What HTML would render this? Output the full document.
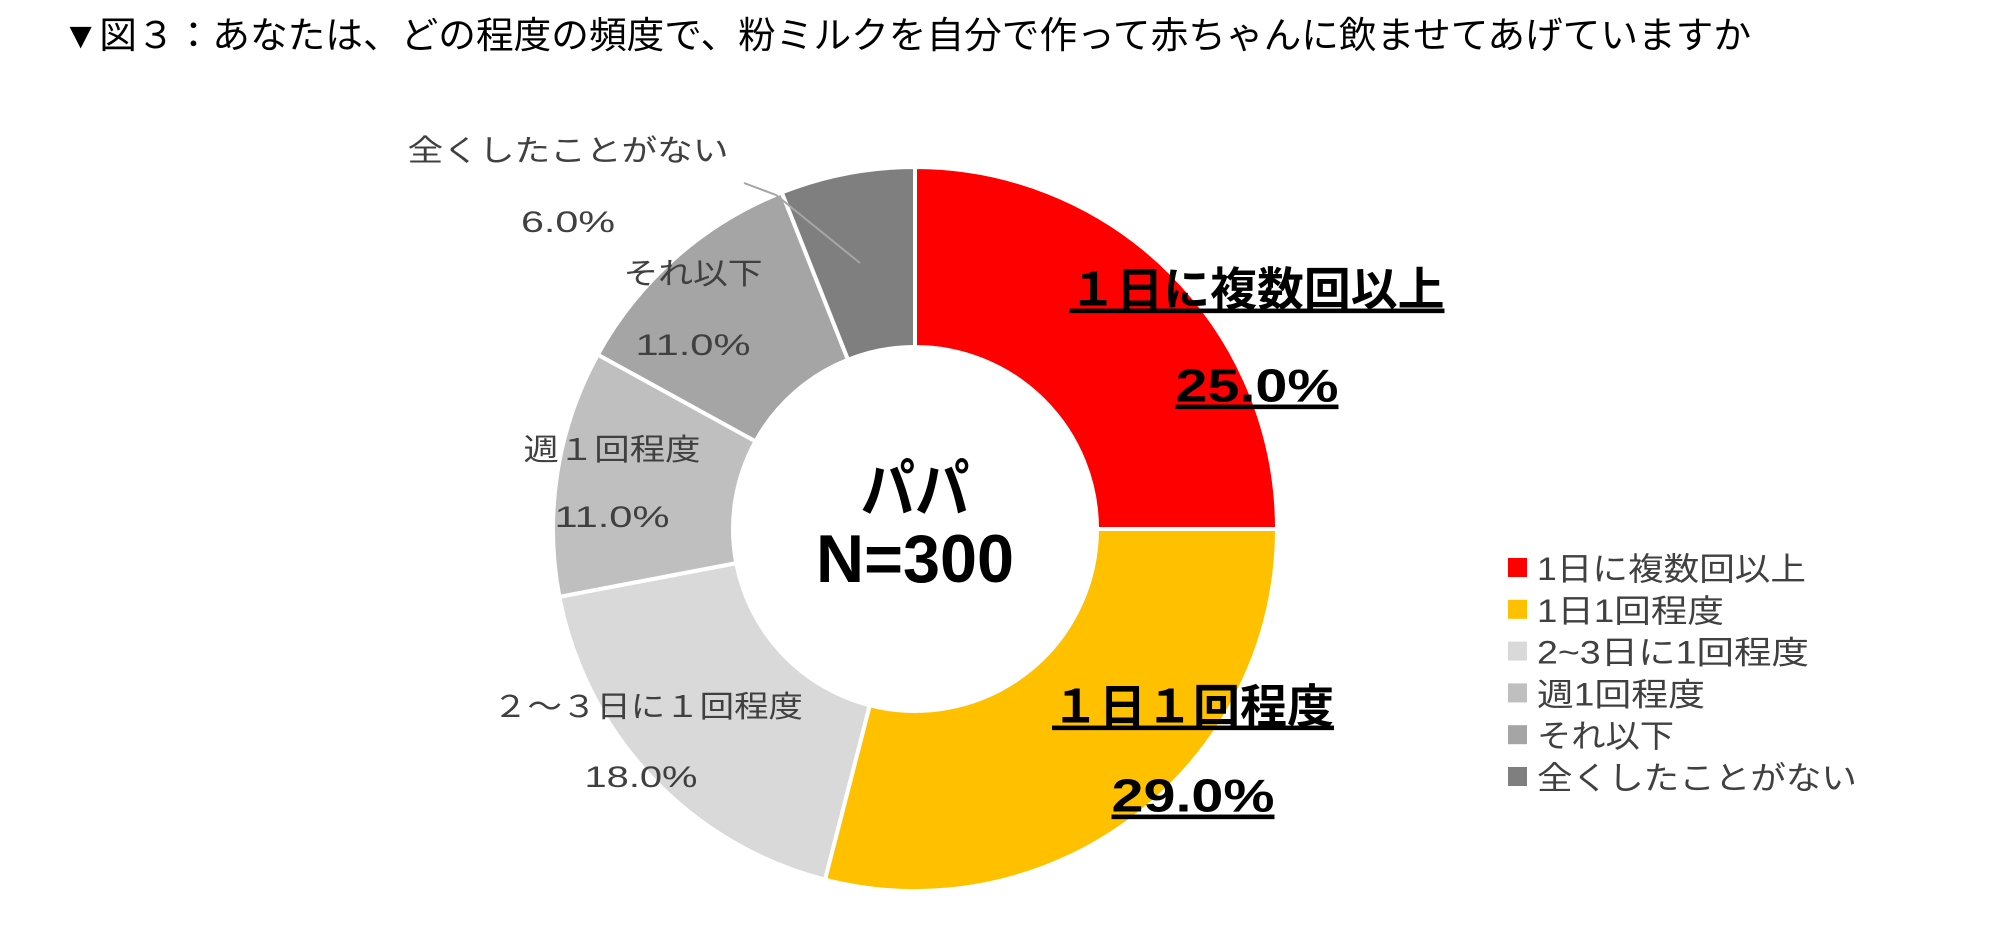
<!DOCTYPE html>
<html><head><meta charset="utf-8"><style>
body{margin:0;background:#fff;width:2001px;height:924px;overflow:hidden;font-family:"Liberation Sans","Noto Sans CJK JP",sans-serif}
</style></head><body>
<svg id="c" width="2001" height="924" xmlns="http://www.w3.org/2000/svg" style="font-family:'Liberation Sans','Noto Sans CJK JP',sans-serif">
<text x="62" y="48" font-size="37" fill="#000" textLength="1689" lengthAdjust="spacingAndGlyphs">▼図３：あなたは、どの程度の頻度で、粉ミルクを自分で作って赤ちゃんに飲ませてあげていますか</text>
<g id="slices"></g>
<g id="labels"></g>
<polyline points="744,183 776,195 860,263" fill="none" stroke="#a6a6a6" stroke-width="2"/>
<text x="915" y="512" font-size="64" font-weight="bold" text-anchor="middle" fill="#000" textLength="109" lengthAdjust="spacingAndGlyphs">パパ</text>
<text x="915" y="582" font-size="68" font-weight="bold" text-anchor="middle" fill="#000" textLength="198" lengthAdjust="spacingAndGlyphs">N=300</text>
<g id="legend"></g>
</svg>
<script>
const categories=["1日に複数回以上","1日1回程度","2~3日に1回程度","週1回程度","それ以下","全くしたことがない"];
const values=[25.0,29.0,18.0,11.0,11.0,6.0];
const pieLabels=["１日に複数回以上","１日１回程度","２～３日に１回程度","週１回程度","それ以下","全くしたことがない"];
const colors=["#FF0000","#FFC000","#D9D9D9","#BFBFBF","#A5A5A5","#7F7F7F"];
const NS="http://www.w3.org/2000/svg";
const cx=915,cy=529,R=362,r=182;
const total=values.reduce((a,b)=>a+b,0);
function pt(a,rad){return [cx+rad*Math.sin(a),cy-rad*Math.cos(a)];}
const sg=document.getElementById('slices'),lg=document.getElementById('labels'),leg=document.getElementById('legend');
// layout: [labelX,labelY,labelWidth,valueX,valueY,valueWidth]
const labelPos=[[1257,289,375,1257,385,163],[1193,706,282,1193,795,163],[648,706,310,641,776,113],[612,449,177,612,516,115],[693,273,139,693,344,115],[568,150,321,568,221,94]];
const legendW=[269,187,272,168,137,320];
let acc=0;
values.forEach((v,i)=>{
  const a0=acc/total*2*Math.PI; acc+=v; const a1=acc/total*2*Math.PI;
  const large=(a1-a0)>Math.PI?1:0;
  const [x0,y0]=pt(a0,R),[x1,y1]=pt(a1,R),[x2,y2]=pt(a1,r),[x3,y3]=pt(a0,r);
  const p=document.createElementNS(NS,'path');
  p.setAttribute('d',`M${x0},${y0}A${R},${R} 0 ${large} 1 ${x1},${y1}L${x2},${y2}A${r},${r} 0 ${large} 0 ${x3},${y3}Z`);
  p.setAttribute('fill',colors[i]);p.setAttribute('stroke','#fff');p.setAttribute('stroke-width','4');
  
  
  sg.appendChild(p);
  const big=i<2;
  const lp=labelPos[i];
  [[pieLabels[i],lp[0],lp[1],lp[2]],[v.toFixed(1)+'%',lp[3],lp[4],lp[5]]].forEach((t,k)=>{
    const e=document.createElementNS(NS,'text');
    const fs=big?46:30;
    e.setAttribute('x',t[1]);e.setAttribute('y',t[2]+fs*0.36);
    e.setAttribute('text-anchor','middle');
    e.setAttribute('font-size',fs);
    e.setAttribute('textLength',t[3]);
    e.setAttribute('lengthAdjust','spacingAndGlyphs');
    e.setAttribute('fill',big?'#000':'#404040');
    if(big){e.setAttribute('font-weight','bold');e.setAttribute('text-decoration','underline');}
    e.textContent=t[0];
    
    
    lg.appendChild(e);
  });
});
categories.forEach((c,i)=>{
  const y=568+i*41.8;
  const s=document.createElementNS(NS,'rect');
  s.setAttribute('x',1508);s.setAttribute('y',y-10);s.setAttribute('width',19);s.setAttribute('height',19);s.setAttribute('fill',colors[i]);
  
  
  leg.appendChild(s);
  const t=document.createElementNS(NS,'text');
  t.setAttribute('x',1537);t.setAttribute('y',y+12);t.setAttribute('font-size','32');t.setAttribute('fill','#404040');
  t.setAttribute('textLength',legendW[i]);
  t.setAttribute('lengthAdjust','spacingAndGlyphs');
  t.textContent=c;
  
  
  leg.appendChild(t);
});
</script>
</body></html>
